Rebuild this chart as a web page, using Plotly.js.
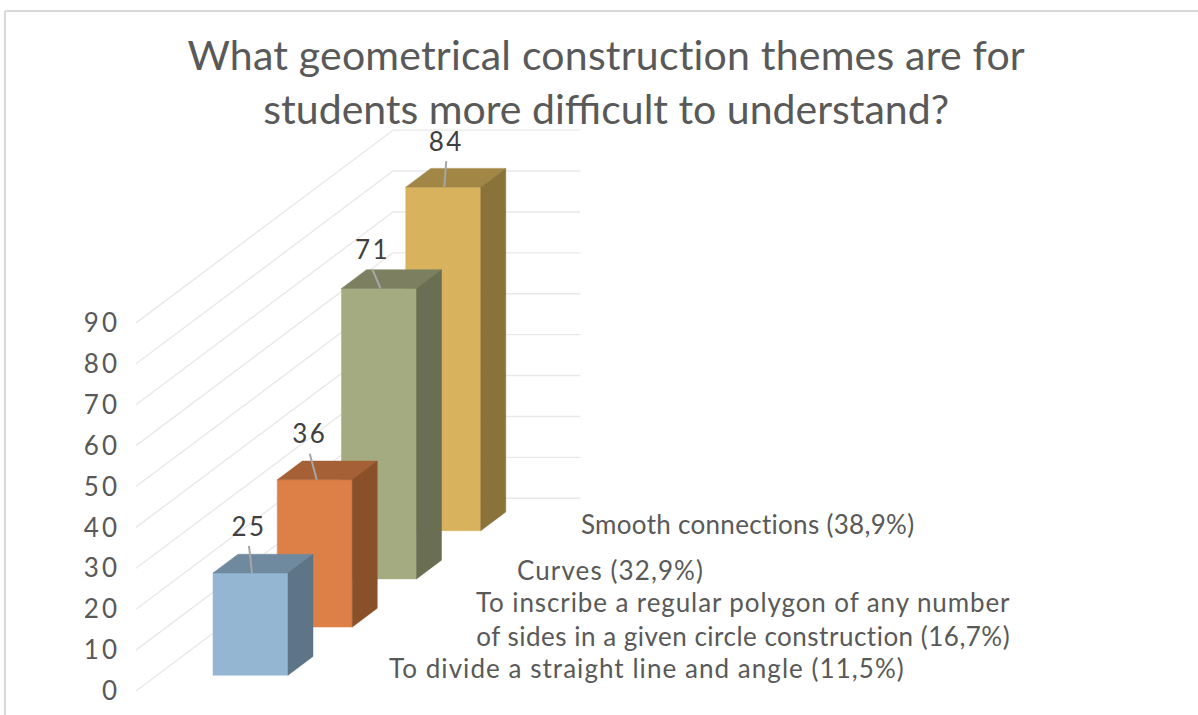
<!DOCTYPE html>
<html>
<head>
<meta charset="utf-8">
<script src="https://cdn.plot.ly/plotly-3.0.1.min.js"></script>
<style>html,body{margin:0;padding:0;background:#fff}#chart{width:1198px;height:715px}</style>
</head>
<body>
<div id="chart"></div>
<script>
var titleLines = ["What geometrical construction themes are for", "students more difficult to understand?"];
var categories = [["To divide a straight line and angle (11,5%)"],
  ["To inscribe a regular polygon of any number", "of sides in a given circle construction (16,7%)"],
  ["Curves (32,9%)"], ["Smooth connections (38,9%)"]];
var values = [25, 36, 71, 84];
var tickValues = [0, 10, 20, 30, 40, 50, 60, 70, 80, 90];
var frontColors = ["#94B6D2", "#DD8047", "#A5AB81", "#D8B25C"];
var topColors = ["#6F899E", "#A66035", "#7C8061", "#A28645"];
var sideColors = ["#5E7487", "#8A5029", "#6A6E52", "#897339"];

// Oblique projection: depth runs up and to the right, value runs up.
var W = 1198, H = 715;
var floorX = 136, floorY = 691, unit = 4.09, slope = 0.75;
var slot = 64.25, bandCount = 4, firstDepth = 21, lateral = 56, barW = 75, barD = 25, wallRun = 187.5;
function px(depth, across) { return depth + across; }
function py(depth, v) { return v + depth * slope / unit; }
var wallDepth = slot * bandCount;

function spaced(text, amount) { return '<span style="letter-spacing:' + amount + 'px">' + text + '</span>'; }

var traces = [];
var gx = [], gy = [];
tickValues.forEach(function (t) {
  gx.push(px(0, 0), px(wallDepth, 0), px(wallDepth, wallRun), null);
  gy.push(py(0, t), py(wallDepth, t), py(wallDepth, t), null);
});
traces.push({ type: "scatter", mode: "lines", x: gx, y: gy, connectgaps: false,
  line: { color: "#E9E9E9", width: 1.4 }, hoverinfo: "skip", showlegend: false });

function poly(xs, ys, color) {
  traces.push({ type: "scatter", mode: "lines", x: xs.concat(xs[0]), y: ys.concat(ys[0]), fill: "toself",
    fillcolor: color, line: { color: color, width: 0.5 }, hoverinfo: "skip", showlegend: false });
}
for (var i = values.length - 1; i >= 0; i--) {
  var d = firstDepth + slot * i, v = values[i];
  var a = lateral, b = lateral + barW, e = d + barD;
  poly([px(d, a), px(d, b), px(d, b), px(d, a)], [py(d, 0), py(d, 0), py(d, v), py(d, v)], frontColors[i]);
  poly([px(d, a), px(d, b), px(e, b), px(e, a)], [py(d, v), py(d, v), py(e, v), py(e, v)], topColors[i]);
  poly([px(d, b), px(e, b), px(e, b), px(d, b)], [py(d, 0), py(e, 0), py(e, v), py(d, v)], sideColors[i]);
}

var leaderTilt = [-3, -7, -8, 2], leaderFoot = [1.5, 2, 1.5, 1], labelRise = [27, 26, 19, 26];
var lx = [], ly = [], tx = [], ty = [];
values.forEach(function (v, i) {
  var d = firstDepth + slot * i, mid = lateral + barW / 2 + leaderFoot[i];
  lx.push(px(d, mid), px(d, mid + leaderTilt[i]), null);
  ly.push(py(d, v), py(d, v + labelRise[i] / unit), null);
  tx.push(px(d, mid + leaderTilt[i]));
  ty.push(py(d, v + (labelRise[i] + 17) / unit));
});
traces.push({ type: "scatter", mode: "lines", x: lx, y: ly, line: { color: "#A6A6A6", width: 2 },
  hoverinfo: "skip", showlegend: false });
traces.push({ type: "scatter", mode: "text", x: tx, y: ty,
  text: values.map(function (n) { return spaced(String(n), 2.5); }), textposition: "middle center",
  textfont: { family: "Lato", size: 26, color: "#404040" }, hoverinfo: "skip", showlegend: false });

function dataX(p) { return p - floorX; }
function dataY(p) { return (floorY - p) / unit; }
var labelSpots = [[387, 668], [474, 619], [515, 570], [579, 524]];
var labelSpacing = [[1.05], [0.9, 0.5], [1.1], [0.3]];
var annotations = categories.map(function (lines, i) {
  var text = lines.map(function (line, j) { return spaced(line, labelSpacing[i][j]); }).join("<br>");
  return { text: text, x: dataX(labelSpots[i][0]), y: dataY(labelSpots[i][1]), xanchor: "left", yanchor: "middle",
    align: "center", showarrow: false, font: { family: "Lato", size: 26, color: "#595959" } };
});

var layout = {
  width: W, height: H, paper_bgcolor: "#fff", plot_bgcolor: "rgba(0,0,0,0)",
  margin: { l: 0, r: 0, t: 0, b: 0 }, showlegend: false,
  title: { text: spaced(titleLines[0], 0.2) + "<br>" + titleLines[1], x: 0.506, xanchor: "center", y: 0.9015, yanchor: "top", automargin: false,
    font: { family: "Lato", size: 41, color: "#595959" } },
  xaxis: { range: [-floorX, W - floorX], domain: [0, 1], visible: false, fixedrange: true },
  yaxis: { range: [(floorY - H) / unit, floorY / unit], domain: [0, 1], anchor: "free", position: 120 / W,
    tickmode: "array", tickvals: tickValues, ticktext: tickValues.map(function (t) { return spaced(String(t), 3); }),
    ticks: "", showgrid: false, zeroline: false, showline: false, ticklabelshift: 0,
    tickfont: { family: "Lato", size: 26, color: "#595959" }, fixedrange: true },
  annotations: annotations,
  shapes: [
    { type: "line", xref: "paper", yref: "paper", x0: 5 / W, x1: 1, y0: 1 - 11 / H, y1: 1 - 11 / H, line: { color: "#D9D9D9", width: 2 } },
    { type: "line", xref: "paper", yref: "paper", x0: 5 / W, x1: 5 / W, y0: 1 - 11 / H, y1: 0, line: { color: "#D9D9D9", width: 2 } }
  ]
};
Plotly.newPlot("chart", traces, layout, { displayModeBar: false, staticPlot: true });
</script>
</body>
</html>
